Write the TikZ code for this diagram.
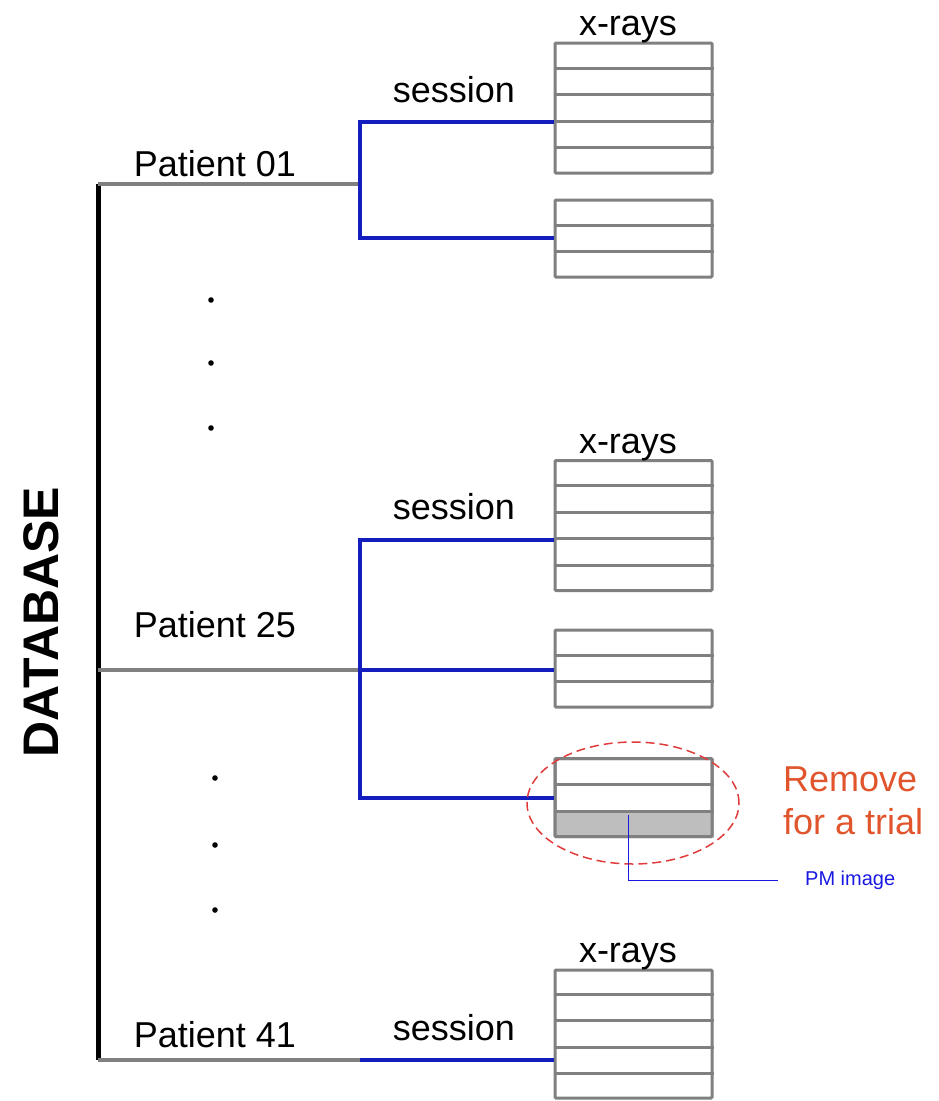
\documentclass[tikz,border=0pt]{standalone}
\usepackage{fontspec}
\setmainfont{Liberation Sans}
\usetikzlibrary{shapes.geometric, positioning, calc}
\definecolor{linegray}{RGB}{128,128,128}
\definecolor{sessblue}{RGB}{20,30,190}
\definecolor{ringred}{RGB}{225,60,60}
\definecolor{noteorange}{RGB}{225,85,45}
\definecolor{pmblue}{RGB}{25,25,225}
\definecolor{cellgray}{RGB}{190,190,190}

\tikzset{
  xbox/.style={draw=linegray, line width=3pt, fill=white, minimum width=157pt, inner sep=0pt, rounded corners=1pt},
  rowline/.style={draw=linegray, line width=3pt},
  spine/.style={draw=black, line width=5pt},
  ppath/.style={draw=linegray, line width=4pt},
  sess/.style={draw=sessblue, line width=4pt},
  txt/.style={font=\fontsize{36}{40}\selectfont, inner sep=0pt, anchor=base},
}
% separators inside an x-ray box: #1 box, #2 number of rows
\newcommand{\xrows}[2]{%
  \pgfmathtruncatemacro\nsep{#2-1}%
  \foreach \k in {1,...,\nsep}
    \draw[rowline] ($(#1.north west)!{\k/#2}!(#1.south west)$) -- ($(#1.north east)!{\k/#2}!(#1.south east)$);
}

\begin{document}
\begin{tikzpicture}[x=1pt, y=-1pt]
\useasboundingbox (0,0) rectangle (938,1101);

% database spine
\node[rotate=90, font=\fontsize{50}{56}\selectfont\bfseries, inner sep=0pt] (db) at (41,622) {DATABASE};
\coordinate (top) at (98,184);
\coordinate (mid) at (98,670);
\coordinate (bot) at (98,1060);
\draw[spine] (top) -- (bot);

% patient 01
\coordinate (j1) at (360,184);
\coordinate (j1a) at (360,122);
\coordinate (j1b) at (360,238);
\node[txt] (p01) at (215,176) {Patient 01};
\node[xbox, minimum height=130pt] (b1) at (633.5,108) {};
\node[xbox, minimum height=77pt] (b2) at (633.5,238.5) {};
\xrows{b1}{5}
\xrows{b2}{3}
\node[txt] (xr1) at (628,35) {x-rays};
\node[txt] (se1) at (454,102) {session};
\draw[ppath] (top) -- (j1);
\draw[sess] (b1.west |- j1a) -- (j1a) -- (j1b) -- (b2.west |- j1b);

\foreach \y in {300,363,428} \fill (211,\y) circle (2.8pt);

% patient 25
\coordinate (j2) at (360,670);
\coordinate (j2a) at (360,540);
\coordinate (j2c) at (360,798);
\node[txt] (p25) at (215,637) {Patient 25};
\node[xbox, minimum height=130pt] (b3) at (633.5,525.5) {};
\node[xbox, minimum height=77pt] (b4) at (633.5,668.5) {};
\node[xbox, minimum height=78pt] (b5) at (633.5,797.5) {};
\fill[cellgray] ($(b5.north west)!{2/3}!(b5.south west)$) rectangle (b5.south east);
\node[xbox, minimum height=78pt, fill=none] at (b5) {};
\xrows{b3}{5}
\xrows{b4}{3}
\xrows{b5}{3}
\node[txt] (xr2) at (628,453) {x-rays};
\node[txt] (se2) at (454,519) {session};
\draw[ppath] (mid) -- (j2);
\draw[sess] (b3.west |- j2a) -- (j2a) -- (j2c) -- (b5.west |- j2c);
\draw[sess] (j2) -- (b4.west |- j2);

\foreach \y in {778,845,910} \fill (215,\y) circle (2.8pt);

% trial box
\node[draw=ringred, dashed, dash pattern=on 9pt off 5pt, line width=1.5pt, ellipse, minimum width=212pt, minimum height=122pt] (ring) at (633,803) {};
\node[font=\fontsize{36}{43}\selectfont, text=noteorange, align=left, inner sep=0pt, anchor=north west] (rm) at (783,767) {Remove\\for a trial};
\coordinate (pmtap) at (628,815);
\node[font=\fontsize{20}{24}\selectfont, text=pmblue, inner sep=0pt, anchor=west] (pm) at (805,880) {PM image};
\coordinate (pmend) at (778,880);
\draw[pmblue, line width=1pt] (pmtap) |- (pmend);

% patient 41
\coordinate (j3) at (360,1060);
\node[txt] (p41) at (215,1047) {Patient 41};
\node[xbox, minimum height=128pt] (b6) at (633.5,1034) {};
\xrows{b6}{5}
\node[txt] (xr3) at (628,962) {x-rays};
\node[txt] (se3) at (454,1040) {session};
\draw[ppath] (bot) -- (j3);
\draw[sess] (j3) -- (b6.west |- j3);
\end{tikzpicture}
\end{document}
